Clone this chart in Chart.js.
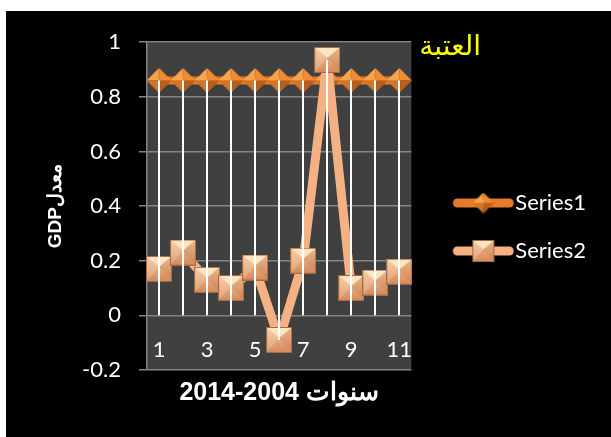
<!DOCTYPE html>
<html lang="ar">
<head>
<meta charset="UTF-8">
<title>معدل GDP - العتبة</title>
<script src="https://cdn.jsdelivr.net/npm/chart.js@4.4.1/dist/chart.umd.min.js"></script>
<style>
    body { margin: 0; background: #fff; }
    .frame {
        position: absolute;
        left: 6px;
        top: 11px;
        width: 605px;
        height: 426px;
        background: #000;
    }
</style>
</head>
<body>
<div class="frame"><canvas id="gdpChart" width="605" height="426"></canvas></div>
<script>
// données
const categories = ['1', '2', '3', '4', '5', '6', '7', '8', '9', '10', '11'];
const series1 = [0.86, 0.86, 0.86, 0.86, 0.86, 0.86, 0.86, 0.86, 0.86, 0.86, 0.86];
const series2 = [0.17, 0.23, 0.13, 0.10, 0.175, -0.09, 0.20, 0.935, 0.10, 0.12, 0.16];
const seriesNames = ['Series1', 'Series2'];
const yMin = -0.2, yMax = 1, yStep = 0.2;
const yTitle = 'GDPمعدل';
const xTitle = '2014-2004 سنوات';
const thresholdText = 'العتبة';

// petits dessins pour les marqueurs (facettes façon Excel)
function makeCanvas(w, h, draw) {
    const c = document.createElement('canvas');
    c.width = w; c.height = h;
    draw(c.getContext('2d'));
    return c;
}

function tri(ctx, a, b, c, col) {
    ctx.beginPath();
    ctx.moveTo(a[0], a[1]); ctx.lineTo(b[0], b[1]); ctx.lineTo(c[0], c[1]);
    ctx.closePath();
    ctx.fillStyle = col;
    ctx.fill();
}

function diamond(s) {
    return makeCanvas(s, s, ctx => {
        const m = s / 2;
        tri(ctx, [m, m], [0, m], [m, 0], '#f9a34c');
        tri(ctx, [m, m], [m, 0], [s, m], '#ef8c34');
        tri(ctx, [m, m], [s, m], [m, s], '#b95f1b');
        tri(ctx, [m, m], [m, s], [0, m], '#d37527');
    });
}

function square(s) {
    return makeCanvas(s, s, ctx => {
        const g = ctx.createLinearGradient(0, 0, 0, s);
        g.addColorStop(0, '#f6c49a');
        g.addColorStop(1, '#d58a5b');
        ctx.fillStyle = g;
        ctx.fillRect(0, 0, s, s);
        const m = s / 2;
        tri(ctx, [0, 0], [s, 0], [m, s * 0.42], '#fde4c2');
        tri(ctx, [0, 0], [m, s * 0.42], [0, s], 'rgba(255,235,210,0.25)');
        tri(ctx, [s, 0], [s, s], [m, s * 0.42], 'rgba(150,80,40,0.12)');
        ctx.strokeStyle = '#a66a44';
        ctx.lineWidth = 1;
        ctx.strokeRect(0.5, 0.5, s - 1, s - 1);
    });
}

function legendSample(color, marker) {
    const W = 87, H = 28, left = 25;
    return makeCanvas(W, H, ctx => {
        ctx.strokeStyle = color;
        ctx.lineWidth = 9;
        ctx.lineCap = 'round';
        ctx.beginPath();
        ctx.moveTo(left + 5, H / 2);
        ctx.lineTo(W - 5, H / 2);
        ctx.stroke();
        ctx.drawImage(marker, left + 31 - marker.width / 2, H / 2 - marker.height / 2);
    });
}

const colors = ['#e27b2b', '#f4b183'];
const markers = [diamond(25), square(26)];
const legendImgs = [legendSample(colors[0], diamond(21)), legendSample(colors[1], square(22))];

// fond gris de la zone de tracé
const plotBg = {
    id: 'plotBg',
    beforeDraw(chart) {
        const {ctx, chartArea: a} = chart;
        ctx.save();
        ctx.fillStyle = '#404040';
        ctx.fillRect(a.left, a.top, a.right - a.left, a.bottom - a.top);
        ctx.restore();
    }
};

// lignes de projection blanches (du point le plus haut jusqu'à l'axe)
const dropLines = {
    id: 'dropLines',
    afterDatasetsDraw(chart) {
        const {ctx, scales: {x, y}} = chart;
        const sets = chart.data.datasets.map(d => d.data);
        ctx.save();
        ctx.strokeStyle = '#ffffff';
        ctx.lineWidth = 2;
        categories.forEach((c, i) => {
            const vals = sets.map(s => s[i]);
            const hi = Math.max(...vals), lo = Math.min(0, ...vals);
            const px = Math.round(x.getPixelForValue(i));
            ctx.beginPath();
            ctx.moveTo(px, y.getPixelForValue(hi));
            ctx.lineTo(px, y.getPixelForValue(lo));
            ctx.stroke();
        });
        ctx.restore();
    }
};

// étiquette jaune "العتبة"
const thresholdLabel = {
    id: 'thresholdLabel',
    afterDraw(chart) {
        const {ctx, chartArea: a} = chart;
        ctx.save();
        ctx.fillStyle = '#ffff00';
        ctx.font = '28px "DejaVu Sans"';
        ctx.textAlign = 'left';
        ctx.textBaseline = 'middle';
        ctx.fillText(thresholdText, a.right + 8, a.top + 6);
        ctx.restore();
    }
};

const ctx = document.getElementById('gdpChart').getContext('2d');
new Chart(ctx, {
    type: 'line',
    data: {
        labels: categories,
        datasets: [
            {
                label: seriesNames[0],
                data: series1,
                borderColor: colors[0],
                borderWidth: 8,
                pointStyle: markers[0],
                order: 1
            },
            {
                label: seriesNames[1],
                data: series2,
                borderColor: colors[1],
                borderWidth: 9,
                borderJoinStyle: 'round',
                pointStyle: markers[1],
                order: 0
            }
        ]
    },
    options: {
        responsive: false,
        animation: false,
        layout: { padding: { top: 29, right: 15, bottom: 23, left: 0 } },
        scales: {
            x: {
                position: { y: 0 },
                offset: true,
                grid: { display: false, drawTicks: false },
                border: { display: false },
                ticks: {
                    color: '#fff',
                    font: { family: 'Lato', size: 22 },
                    padding: 21,
                    autoSkip: false,
                    maxRotation: 0,
                    callback: (v, i) => i % 2 === 0 ? categories[i] : ''
                },
                afterFit: s => { s.height = 0; }
            },
            y: {
                min: yMin,
                max: yMax,
                ticks: {
                    stepSize: yStep,
                    color: '#fff',
                    font: { family: 'Lato', size: 22 },
                    padding: 18,
                    callback: v => String(+v.toFixed(1))
                },
                grid: { color: '#858585', lineWidth: 1.5, tickLength: 8 },
                border: { color: '#858585', width: 1.5 },
                title: {
                    display: true,
                    text: yTitle,
                    color: '#fff',
                    font: { family: 'Liberation Sans', size: 19, weight: 'bold' },
                    padding: { top: 38, bottom: 0 }
                },
                afterFit: s => { s.width = 141; }
            }
        },
        plugins: {
            legend: {
                position: 'right',
                align: 'center',
                maxWidth: 220,
                labels: {
                    color: '#fff',
                    font: { family: 'Lato', size: 22 },
                    padding: 26,
                    usePointStyle: true,
                    pointStyleWidth: 67,
                    boxHeight: 22,
                    generateLabels: chart => chart.data.datasets.map((d, i) => ({
                        text: d.label,
                        pointStyle: legendImgs[i],
                        fillStyle: 'transparent',
                        strokeStyle: 'transparent',
                        lineWidth: 0,
                        fontColor: '#fff',
                        hidden: false,
                        datasetIndex: i
                    }))
                }
            },
            title: {
                display: true,
                position: 'bottom',
                fullSize: false,
                text: xTitle,
                color: '#fff',
                font: { family: 'Liberation Sans', size: 25, weight: 'bold' },
                padding: { top: 8, bottom: 6 }
            },
            tooltip: { enabled: false }
        }
    },
    plugins: [plotBg, dropLines, thresholdLabel]
});
</script>
</body>
</html>
